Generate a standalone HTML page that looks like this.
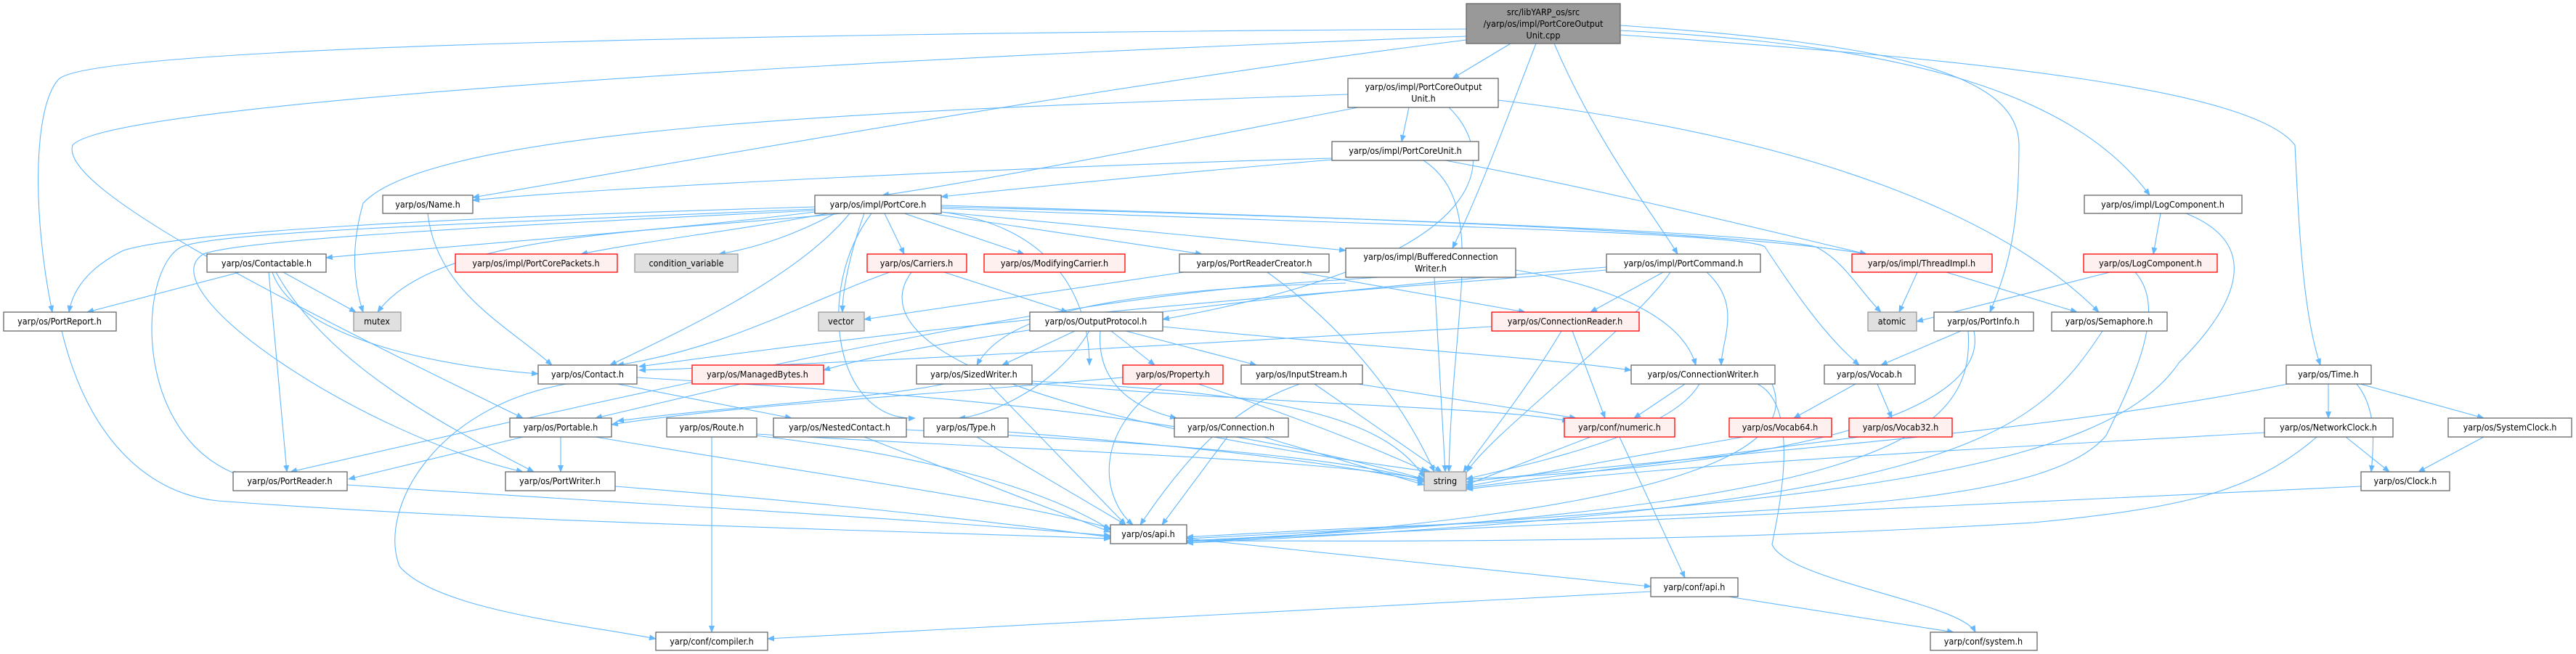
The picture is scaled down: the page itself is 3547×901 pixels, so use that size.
<!DOCTYPE html>
<html><head><meta charset="utf-8"><style>
html,body{margin:0;padding:0;background:#fff;}
svg{display:block;}
text{font-family:"DejaVu Sans Condensed","DejaVu Sans","Liberation Sans",sans-serif;font-size:12.5px;fill:#000;text-anchor:middle;}
.e{fill:none;stroke:#63b8ff;stroke-width:1.1;marker-end:url(#a);}
.n{fill:#fff;stroke:#666;stroke-width:1.3;}
.r{fill:#fff0f0;stroke:#ff0000;stroke-width:1.3;}
.g{fill:#e0e0e0;stroke:#999;stroke-width:1.3;}
.m{fill:#999;stroke:#666;stroke-width:1.3;}
</style></head><body>
<svg width="3547" height="901" viewBox="0 0 3547 901" xmlns="http://www.w3.org/2000/svg">
<defs><marker id="a" markerWidth="10" markerHeight="8" refX="9" refY="4" orient="auto" markerUnits="userSpaceOnUse"><path d="M0,0 L10,4 L0,8 z" fill="#63b8ff"/></marker></defs>
<g>
<!-- cpp edges -->
<path class="e" d="M2019,40 C1200,45 120,60 80,110 C45,150 45,300 72,430"/>
<path class="e" d="M2019,50 C1200,80 150,140 100,200 C80,260 400,420 720,576"/>
<path class="e" d="M2019,55 C1500,120 900,230 651,272"/>
<path class="e" d="M2080,60 L2000,108"/>
<path class="e" d="M2115,60 C2080,150 2040,260 2000,342"/>
<path class="e" d="M2140,60 C2200,200 2280,300 2310,350"/>
<path class="e" d="M2231,35 C2600,60 2780,100 2780,200 C2780,300 2770,360 2740,430"/>
<path class="e" d="M2231,42 C2600,60 2850,120 2960,269"/>
<path class="e" d="M2231,48 C2700,80 3100,120 3160,200 C3165,300 3170,430 3195,503"/>
<!-- POU -->
<path class="e" d="M1856,130 C1300,150 600,170 500,280 C480,350 490,400 500,430"/>
<path class="e" d="M1870,148 C1600,200 1350,250 1215,269"/>
<path class="e" d="M1940,148 L1930,195"/>
<path class="e" d="M1995,148 C2050,200 2100,350 1601,440"/>
<path class="e" d="M2063,138 C2500,190 2760,300 2890,430"/>
<!-- PCU -->
<path class="e" d="M1834,218 C1400,230 800,260 651,276"/>
<path class="e" d="M1834,220 C1600,240 1400,260 1296,271"/>
<path class="e" d="M1960,221 C2050,280 2000,420 1995,650"/>
<path class="e" d="M1990,221 C2200,260 2400,310 2570,350"/>
<!-- PortCore -->
<path class="e" d="M1122,285 C600,300 250,320 170,345 C120,370 100,400 95,430"/>
<path class="e" d="M1122,288 C600,310 300,320 250,340 C190,370 180,600 330,655"/>
<path class="e" d="M1122,290 C700,310 330,330 280,350 C200,400 500,600 720,650"/>
<path class="e" d="M1122,292 C900,320 600,340 449,355"/>
<path class="e" d="M1140,294 C1000,320 900,330 800,350"/>
<path class="e" d="M1150,294 C1100,320 1050,340 990,350"/>
<path class="e" d="M1160,294 C900,320 600,320 520,430"/>
<path class="e" d="M1170,294 C1100,380 950,450 840,503"/>
<path class="e" d="M1190,294 C1170,350 1160,400 1160,430"/>
<path class="e" d="M1218,294 L1245,350"/>
<path class="e" d="M1245,294 L1410,350"/>
<path class="e" d="M1280,294 L1655,350"/>
<path class="e" d="M1296,292 L1853,345"/>
<path class="e" d="M1296,292 C1440,310 1500,400 1500,503"/>
<path class="e" d="M1200,294 C1120,400 1150,580 1260,576"/>
<path class="e" d="M1296,283 C1900,300 2400,320 2570,350"/>
<path class="e" d="M1296,285 C1900,300 2420,320 2500,340 C2540,360 2560,400 2590,430"/>
<path class="e" d="M1296,287 C1900,310 2400,320 2430,340 C2470,400 2510,460 2560,503"/>
<!-- Contactable -->
<path class="e" d="M330,375 L120,430"/>
<path class="e" d="M390,375 L490,430"/>
<path class="e" d="M375,375 C400,450 550,500 741,515"/>
<path class="e" d="M370,375 L395,650"/>
<path class="e" d="M380,375 C450,500 600,580 735,650"/>
<!-- Name -->
<path class="e" d="M589,294 C600,400 700,450 760,503"/>
<!-- Carriers -->
<path class="e" d="M1225,375 C1100,420 1000,480 850,503"/>
<path class="e" d="M1300,375 L1470,430"/>
<path class="e" d="M1255,375 C1200,450 1300,560 1970,650"/>
<!-- PRC -->
<path class="e" d="M1630,375 L1190,440"/>
<path class="e" d="M1745,375 C1850,450 1930,550 1975,650"/>
<path class="e" d="M1790,375 L2100,430"/>
<!-- BCW -->
<path class="e" d="M1853,390 C1500,400 1380,440 1345,503"/>
<path class="e" d="M1900,382 C1600,400 1400,420 400,650"/>
<path class="e" d="M1975,382 L1990,650"/>
<path class="e" d="M2087,372 C2250,400 2320,450 2335,503"/>
<!-- PortCommand -->
<path class="e" d="M2212,372 C1900,400 1500,420 880,505"/>
<path class="e" d="M2290,375 L2190,430"/>
<path class="e" d="M2350,375 C2400,420 2370,470 2370,503"/>
<path class="e" d="M2300,375 C2250,450 2050,600 2020,650"/>
<path class="e" d="M2212,368 C1800,400 1300,460 1134,510"/>
<!-- ThreadImpl / LogComponent -->
<path class="e" d="M2640,375 L2615,430"/>
<path class="e" d="M2680,375 L2860,430"/>
<path class="e" d="M2905,375 L2639,443"/>
<path class="e" d="M2940,375 C2980,420 2950,500 2900,600 C2800,720 2300,700 1634,740"/>
<path class="e" d="M2975,294 L2965,350"/>
<path class="e" d="M3010,294 C3100,330 3100,400 3000,500 C2900,650 2500,700 1634,742"/>
<!-- row430 -->
<path class="e" d="M85,456 C120,600 200,680 300,690 C700,720 1200,730 1529,742"/>
<path class="e" d="M1480,456 L1380,503"/>
<path class="e" d="M1530,456 L1590,503"/>
<path class="e" d="M1550,456 L1730,503"/>
<path class="e" d="M1515,456 C1510,520 1550,560 1620,576"/>
<path class="e" d="M1500,456 C1450,540 1350,575 1320,576"/>
<path class="e" d="M1601,450 C1900,480 2100,490 2246,510"/>
<path class="e" d="M2054,450 C1700,470 1200,500 880,510"/>
<path class="e" d="M2150,456 C2100,540 2050,600 2015,650"/>
<path class="e" d="M2165,456 L2210,576"/>
<path class="e" d="M2700,456 L2590,503"/>
<path class="e" d="M2710,456 C2720,600 2600,700 1634,745"/>
<path class="e" d="M2718,456 C2740,560 2500,640 2019,660"/>
<path class="e" d="M2895,456 C2800,600 2700,700 1634,748"/>
<!-- row503 -->
<path class="e" d="M877,520 C1200,540 1600,560 1961,660"/>
<path class="e" d="M850,529 L1090,576"/>
<path class="e" d="M780,529 C600,560 520,700 550,780 C600,840 800,860 903,880"/>
<path class="e" d="M1020,529 L820,576"/>
<path class="e" d="M1300,529 C1200,550 1000,560 850,580"/>
<path class="e" d="M1362,529 L1550,723"/>
<path class="e" d="M1421,525 C1700,540 1900,560 1961,658"/>
<path class="e" d="M1421,528 C1800,560 2050,560 2160,580"/>
<path class="e" d="M1546,520 C1200,550 1000,560 842,585"/>
<path class="e" d="M1650,529 C1800,580 1900,620 1965,650"/>
<path class="e" d="M1600,529 C1500,600 1520,690 1560,723"/>
<path class="e" d="M1790,529 C1700,560 1640,620 1570,723"/>
<path class="e" d="M1810,529 L1985,650"/>
<path class="e" d="M1870,529 L2170,576"/>
<path class="e" d="M2320,529 L2250,576"/>
<path class="e" d="M2340,529 C2300,600 2100,640 2019,660"/>
<path class="e" d="M2440,529 C2470,600 2400,700 1634,748"/>
<path class="e" d="M2420,529 C2480,560 2450,700 2440,750 C2460,800 2700,830 2720,871"/>
<path class="e" d="M2555,529 L2470,576"/>
<path class="e" d="M2585,529 L2605,576"/>
<path class="e" d="M3150,529 C2800,600 2400,620 2019,664"/>
<path class="e" d="M3206,529 L3206,576"/>
<path class="e" d="M3245,529 C3270,560 3270,600 3265,650"/>
<path class="e" d="M3250,529 L3420,576"/>
<!-- row576 -->
<path class="e" d="M720,602 L480,660"/>
<path class="e" d="M772,602 L772,650"/>
<path class="e" d="M820,602 C1100,650 1400,690 1529,728"/>
<path class="e" d="M980,602 L980,871"/>
<path class="e" d="M1040,600 C1300,630 1450,680 1529,730"/>
<path class="e" d="M1042,598 C1400,620 1800,630 1961,660"/>
<path class="e" d="M1190,602 L1529,733"/>
<path class="e" d="M1248,592 C1600,610 1850,630 1961,662"/>
<path class="e" d="M1345,602 L1550,723"/>
<path class="e" d="M1388,595 C1700,620 1850,640 1961,664"/>
<path class="e" d="M1690,602 L1600,723"/>
<path class="e" d="M1740,602 L1961,668"/>
<path class="e" d="M2190,602 L2019,668"/>
<path class="e" d="M2230,602 L2320,796"/>
<path class="e" d="M2400,602 L2019,670"/>
<path class="e" d="M2560,602 L2019,672"/>
<path class="e" d="M3118,596 C2700,620 2300,640 2019,674"/>
<path class="e" d="M3190,602 C3100,680 3000,700 2800,720 C2300,750 1900,745 1634,745"/>
<path class="e" d="M3230,602 L3290,650"/>
<path class="e" d="M3420,602 L3330,650"/>
<!-- row650 -->
<path class="e" d="M478,668 C800,690 1200,710 1529,738"/>
<path class="e" d="M847,670 C1100,690 1300,710 1529,740"/>
<path class="e" d="M3251,670 C2800,690 2200,720 1634,746"/>
<path class="e" d="M1634,742 L2273,808"/>
<path class="e" d="M2273,815 L1057,880"/>
<path class="e" d="M2380,822 L2690,871"/>
</g>
<g>
<rect class="m" x="2019" y="5" width="212" height="55"/>
<text x="2125" y="21">src/libYARP_os/src</text><text x="2125" y="37">/yarp/os/impl/PortCoreOutput</text><text x="2125" y="53">Unit.cpp</text>
<rect class="n" x="1856" y="108" width="207" height="40"/>
<text x="1960" y="124">yarp/os/impl/PortCoreOutput</text><text x="1960" y="140">Unit.h</text>
<rect class="n" x="1834" y="195" width="202" height="26"/><text x="1935" y="212">yarp/os/impl/PortCoreUnit.h</text>
<rect class="n" x="527" y="269" width="124" height="25"/><text x="589" y="286">yarp/os/Name.h</text>
<rect class="n" x="1122" y="269" width="174" height="25"/><text x="1209" y="286">yarp/os/impl/PortCore.h</text>
<rect class="n" x="2870" y="269" width="217" height="25"/><text x="2978" y="286">yarp/os/impl/LogComponent.h</text>
<rect class="n" x="285" y="350" width="164" height="25"/><text x="367" y="367">yarp/os/Contactable.h</text>
<rect class="r" x="627" y="350" width="223" height="25"/><text x="738" y="367">yarp/os/impl/PortCorePackets.h</text>
<rect class="g" x="874" y="350" width="142" height="25"/><text x="945" y="367">condition_variable</text>
<rect class="r" x="1194" y="350" width="137" height="25"/><text x="1262" y="367">yarp/os/Carriers.h</text>
<rect class="r" x="1355" y="350" width="194" height="25"/><text x="1452" y="367">yarp/os/ModifyingCarrier.h</text>
<rect class="n" x="1624" y="350" width="206" height="25"/><text x="1727" y="367">yarp/os/PortReaderCreator.h</text>
<rect class="n" x="1853" y="342" width="234" height="40"/><text x="1970" y="358">yarp/os/impl/BufferedConnection</text><text x="1970" y="374">Writer.h</text>
<rect class="n" x="2212" y="350" width="212" height="25"/><text x="2318" y="367">yarp/os/impl/PortCommand.h</text>
<rect class="r" x="2550" y="350" width="193" height="25"/><text x="2646" y="367">yarp/os/impl/ThreadImpl.h</text>
<rect class="r" x="2869" y="350" width="184" height="25"/><text x="2961" y="367">yarp/os/LogComponent.h</text>
<rect class="n" x="5" y="430" width="155" height="26"/><text x="82" y="447">yarp/os/PortReport.h</text>
<rect class="g" x="487" y="430" width="65" height="26"/><text x="519" y="447">mutex</text>
<rect class="g" x="1127" y="430" width="63" height="26"/><text x="1158" y="447">vector</text>
<rect class="n" x="1418" y="430" width="183" height="26"/><text x="1509" y="447">yarp/os/OutputProtocol.h</text>
<rect class="r" x="2054" y="430" width="203" height="26"/><text x="2155" y="447">yarp/os/ConnectionReader.h</text>
<rect class="g" x="2572" y="430" width="67" height="26"/><text x="2605" y="447">atomic</text>
<rect class="n" x="2663" y="430" width="137" height="26"/><text x="2731" y="447">yarp/os/PortInfo.h</text>
<rect class="n" x="2825" y="430" width="159" height="26"/><text x="2904" y="447">yarp/os/Semaphore.h</text>
<rect class="n" x="741" y="503" width="136" height="26"/><text x="809" y="520">yarp/os/Contact.h</text>
<rect class="r" x="953" y="503" width="181" height="26"/><text x="1043" y="520">yarp/os/ManagedBytes.h</text>
<rect class="n" x="1262" y="503" width="159" height="26"/><text x="1341" y="520">yarp/os/SizedWriter.h</text>
<rect class="r" x="1546" y="503" width="138" height="26"/><text x="1615" y="520">yarp/os/Property.h</text>
<rect class="n" x="1709" y="503" width="167" height="26"/><text x="1792" y="520">yarp/os/InputStream.h</text>
<rect class="n" x="2246" y="503" width="198" height="26"/><text x="2345" y="520">yarp/os/ConnectionWriter.h</text>
<rect class="n" x="2512" y="503" width="125" height="26"/><text x="2574" y="520">yarp/os/Vocab.h</text>
<rect class="n" x="3148" y="503" width="117" height="26"/><text x="3206" y="520">yarp/os/Time.h</text>
<rect class="n" x="702" y="576" width="140" height="26"/><text x="772" y="593">yarp/os/Portable.h</text>
<rect class="n" x="918" y="576" width="124" height="26"/><text x="980" y="593">yarp/os/Route.h</text>
<rect class="n" x="1065" y="576" width="183" height="26"/><text x="1156" y="593">yarp/os/NestedContact.h</text>
<rect class="n" x="1272" y="576" width="116" height="26"/><text x="1330" y="593">yarp/os/Type.h</text>
<rect class="n" x="1617" y="576" width="157" height="26"/><text x="1695" y="593">yarp/os/Connection.h</text>
<rect class="r" x="2154" y="576" width="152" height="26"/><text x="2230" y="593">yarp/conf/numeric.h</text>
<rect class="r" x="2381" y="576" width="141" height="26"/><text x="2451" y="593">yarp/os/Vocab64.h</text>
<rect class="r" x="2546" y="576" width="142" height="26"/><text x="2617" y="593">yarp/os/Vocab32.h</text>
<rect class="n" x="3118" y="576" width="177" height="26"/><text x="3206" y="593">yarp/os/NetworkClock.h</text>
<rect class="n" x="3371" y="576" width="170" height="26"/><text x="3456" y="593">yarp/os/SystemClock.h</text>
<rect class="n" x="321" y="650" width="157" height="26"/><text x="399" y="667">yarp/os/PortReader.h</text>
<rect class="n" x="696" y="650" width="151" height="26"/><text x="771" y="667">yarp/os/PortWriter.h</text>
<rect class="g" x="1961" y="650" width="58" height="26"/><text x="1990" y="667">string</text>
<rect class="n" x="3251" y="650" width="122" height="26"/><text x="3312" y="667">yarp/os/Clock.h</text>
<rect class="n" x="1529" y="723" width="105" height="26"/><text x="1581" y="740">yarp/os/api.h</text>
<rect class="n" x="2273" y="796" width="120" height="26"/><text x="2333" y="813">yarp/conf/api.h</text>
<rect class="n" x="903" y="871" width="154" height="25"/><text x="980" y="888">yarp/conf/compiler.h</text>
<rect class="n" x="2658" y="871" width="147" height="25"/><text x="2731" y="888">yarp/conf/system.h</text>
</g>
</svg>
</body></html>
